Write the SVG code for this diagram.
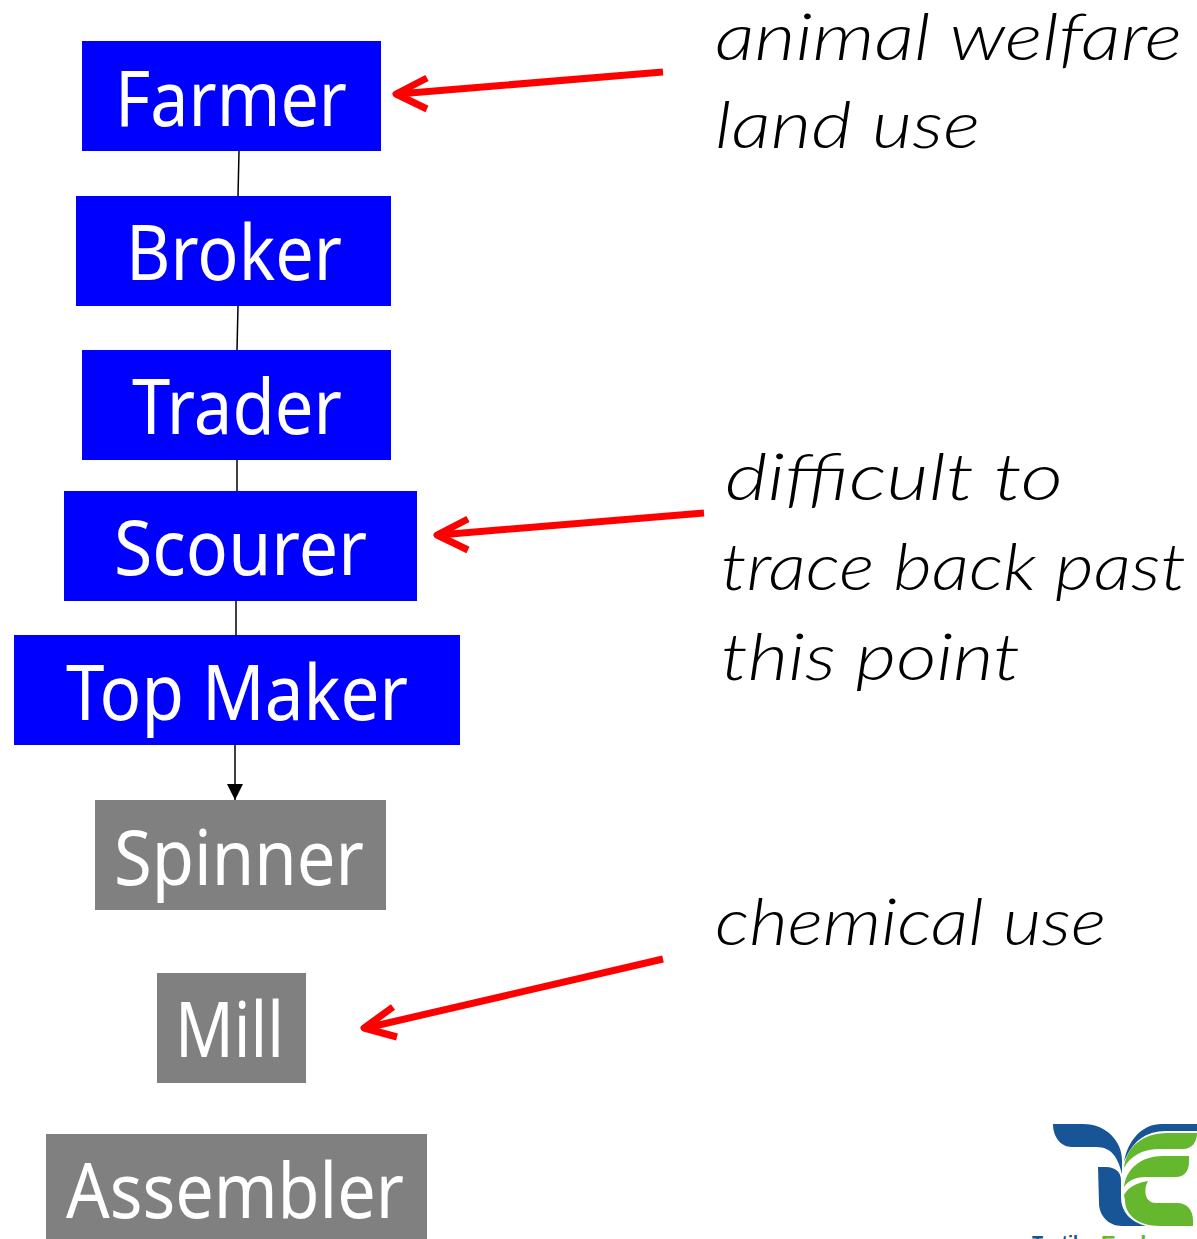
<svg xmlns="http://www.w3.org/2000/svg" width="1197" height="1239" viewBox="0 0 1197 1239">
<style>
.box-b{fill:#0000ff}
.box-g{fill:#808080}
.lbl{font-family:"Noto Sans","DejaVu Sans",sans-serif;font-size:76px;fill:#fff}
.hand{font-family:"Lato","Liberation Serif",sans-serif;font-style:italic;font-weight:300;font-size:66px;fill:#000}
.con{stroke:#000;stroke-width:1.5;fill:none}
.red{stroke:#ff0000;stroke-width:7;fill:none;stroke-linejoin:round}
.lb{fill:#175596}
.lg{fill:#65b72e}
.brand{font-family:"Liberation Sans",Arial,sans-serif;font-weight:700;font-size:22px}
</style>
<defs>
<marker id="tri" markerUnits="userSpaceOnUse" markerWidth="16" markerHeight="16" refX="16" refY="8" orient="auto"><path d="M0 0L16 8L0 16Z" fill="#000"/></marker>
</defs>
<rect width="1197" height="1239" fill="#fff"/>
<g id="connectors">
<path class="con" d="M239 151L238 196"/>
<path class="con" d="M238 306L237 350"/>
<path class="con" d="M237 460L237 491"/>
<path class="con" d="M236 601L236 635"/>
<path class="con" d="M235 745L235 800" marker-end="url(#tri)"/>
<path class="red" d="M663 72L398 94M427 78L396 94L427 109"/>
<path class="red" d="M704 513L439 535M468 519L437 535L468 550"/>
<path class="red" d="M663 959L366 1028M393 1007L364 1028L397 1037"/>
</g>
<g id="farmer"><rect class="box-b" x="82" y="41" width="299" height="110"/><text class="lbl" x="115" y="126" textLength="232" lengthAdjust="spacingAndGlyphs">Farmer</text></g>
<g id="broker"><rect class="box-b" x="76" y="196" width="315" height="110"/><text class="lbl" x="126" y="280" textLength="216" lengthAdjust="spacingAndGlyphs">Broker</text></g>
<g id="trader"><rect class="box-b" x="82" y="350" width="309" height="110"/><text class="lbl" x="132" y="434" textLength="210" lengthAdjust="spacingAndGlyphs">Trader</text></g>
<g id="scourer"><rect class="box-b" x="64" y="491" width="353" height="110"/><text class="lbl" x="114" y="575" textLength="253" lengthAdjust="spacingAndGlyphs">Scourer</text></g>
<g id="top-maker"><rect class="box-b" x="14" y="635" width="446" height="110"/><text class="lbl" x="66" y="720" textLength="342" lengthAdjust="spacingAndGlyphs">Top Maker</text></g>
<g id="spinner"><rect class="box-g" x="95" y="800" width="291" height="110"/><text class="lbl" x="114" y="885" textLength="250" lengthAdjust="spacingAndGlyphs">Spinner</text></g>
<g id="mill"><rect class="box-g" x="157" y="973" width="149" height="110"/><text class="lbl" x="175" y="1057" textLength="109" lengthAdjust="spacingAndGlyphs">Mill</text></g>
<g id="assembler"><rect class="box-g" x="46" y="1134" width="381" height="110"/><text class="lbl" x="66" y="1218" textLength="338" lengthAdjust="spacingAndGlyphs">Assembler</text></g>
<g id="notes">
<text class="hand" x="715" y="60" textLength="467" lengthAdjust="spacingAndGlyphs">animal welfare</text>
<text class="hand" x="715" y="148" textLength="265" lengthAdjust="spacingAndGlyphs">land use</text>
<text class="hand" x="725" y="500" textLength="338" lengthAdjust="spacingAndGlyphs">difficult to</text>
<text class="hand" x="721" y="590" textLength="465" lengthAdjust="spacingAndGlyphs">trace back past</text>
<text class="hand" x="721" y="680" textLength="299" lengthAdjust="spacingAndGlyphs">this point</text>
<text class="hand" x="715" y="945" textLength="391" lengthAdjust="spacingAndGlyphs">chemical use</text>
</g>
<g id="logo">
<path class="lb" d="M1053 1124H1083C1107 1124 1122 1142 1122 1160V1174C1118 1158 1112 1147 1096 1147H1072C1060 1147 1053 1136 1053 1124Z"/>
<path class="lb" d="M1098 1167H1106C1115 1167 1121 1172 1121 1180V1197C1121 1212 1131 1222 1146 1226H1122C1108 1226 1099 1215 1099 1203Z"/>
<path class="lb" d="M1124 1162C1128 1140 1142 1124 1162 1124H1197V1131H1166C1145 1131 1132 1142 1124 1162Z"/>
<path class="lg" d="M1124 1168C1126 1147 1143 1133 1167 1133H1197C1197 1142 1192 1149 1183 1149H1160C1143 1149 1130 1156 1124 1168Z"/>
<path class="lg" d="M1124 1187C1126 1168 1142 1156 1163 1156H1189V1162C1189 1171 1184 1177 1176 1177H1150C1138 1177 1130 1178 1124 1187Z"/>
<path class="lg" d="M1124 1195C1129 1186 1137 1183 1148 1181C1143 1190 1145 1203 1156 1203H1177C1187 1203 1193 1210 1193 1220V1226H1160C1138 1226 1125 1215 1125 1200Z"/>
<text class="brand" x="1032" y="1251" fill="#175596" textLength="56" lengthAdjust="spacingAndGlyphs">Textile</text>
<text class="brand" x="1101" y="1251" fill="#65b72e">Exchange</text>
</g>
</svg>
